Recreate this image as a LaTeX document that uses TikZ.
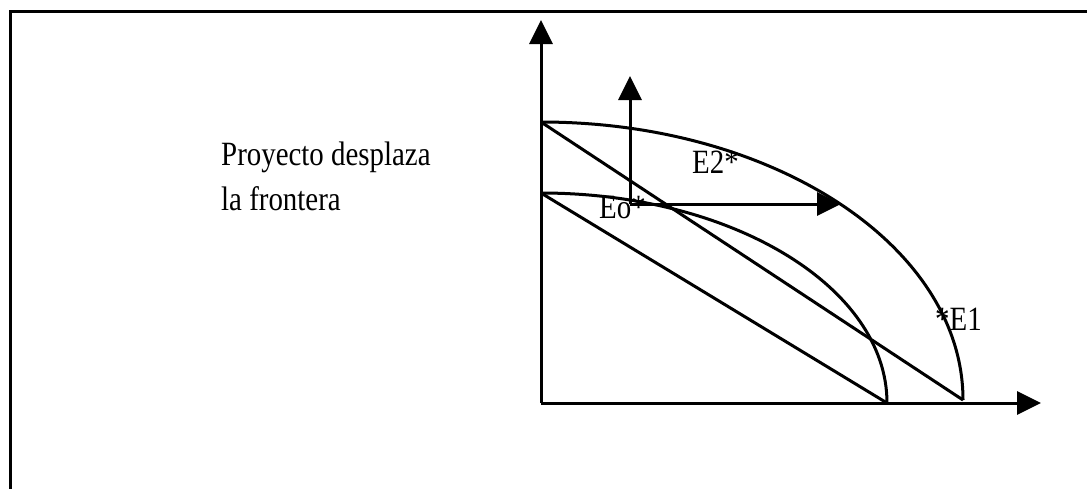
\documentclass[tikz,border=0pt]{standalone}
\usepackage{fontspec}
\setmainfont[FakeStretch=0.85]{Liberation Serif}
\usetikzlibrary{arrows.meta}
\begin{document}
\begin{tikzpicture}[x=1pt,y=-1pt,
  axis/.style={line width=3pt,-{Triangle[length=24pt 0,width=23pt 0]}},
  curve/.style={line width=3pt},
  lbl/.style={inner sep=0pt,anchor=base west,font=\fontsize{34}{40}\selectfont}]
\useasboundingbox (0,0) rectangle (1087,488);
% frame (top and left edges)
\draw[line width=3pt] (10,495) -- (10,11) -- (1095,11);
% points
\coordinate (O) at (541,403);
\coordinate (Ytop) at (541,20);
\coordinate (Xend) at (1041,403);
\coordinate (A2) at (541,122);
\coordinate (B2) at (963,400);
\coordinate (A1) at (541,193);
\coordinate (B1) at (887,403);
\coordinate (E0) at (630,204);
\coordinate (Vtip) at (630,76);
\coordinate (Htip) at (841,204);
% axes
\draw[axis] (O) -- (Ytop);
\draw[axis] (O) -- (Xend);
% frontiers
\draw[curve] (A2) arc[start angle=-90,end angle=0,x radius=422,y radius=278];
\draw[curve] (A1) arc[start angle=-90,end angle=0,x radius=346,y radius=210];
% budget lines
\draw[curve] (A2) -- (B2);
\draw[curve] (A1) -- (B1);
% shift arrows
\draw[axis] (E0) -- (Vtip);
\draw[axis] (E0) -- (Htip);
% labels
\node[lbl] (t1) at (221,165) {Proyecto desplaza};
\node[lbl] (t2) at (221,210) {la frontera};
\node[lbl] (eo) at (599,218) {Eo*};
\node[lbl] (e2) at (692,173) {E2*};
\node[lbl] (e1) at (935,330) {*E1};
\end{tikzpicture}
\end{document}
